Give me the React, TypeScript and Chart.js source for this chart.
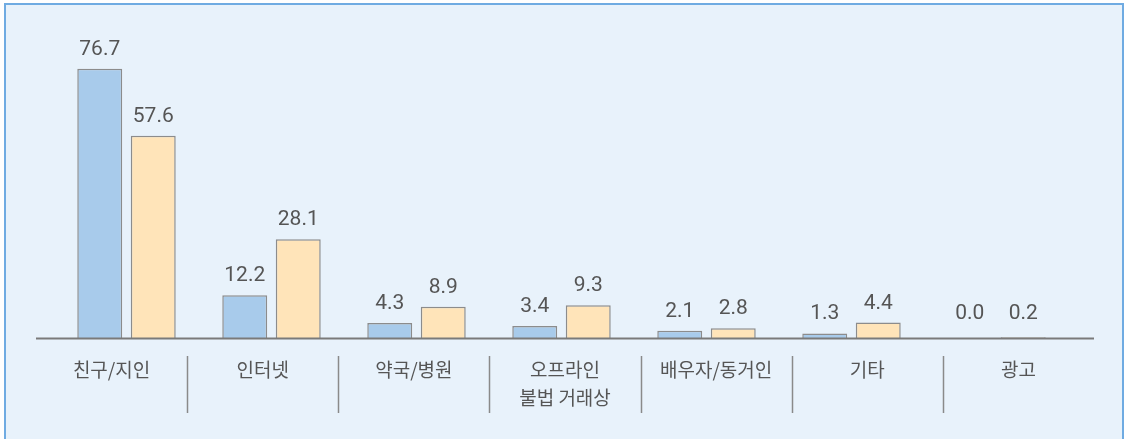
import React, { useEffect, useRef } from "react";
import { Chart, registerables } from "chart.js";

Chart.register(...registerables);

const categories: (string | string[])[] = [
  "친구/지인",
  "인터넷",
  "약국/병원",
  ["오프라인", "불법 거래상"],
  "배우자/동거인",
  "기타",
  "광고",
];
const seriesA = [76.7, 12.2, 4.3, 3.4, 2.1, 1.3, 0.0];
const seriesB = [57.6, 28.1, 8.9, 9.3, 2.8, 4.4, 0.2];
const seriesNames = ["A", "B"];

const TEXT = "#555555";
const FONT = "'Noto Sans CJK KR', 'Noto Sans', sans-serif";
// label band (axis line / separators / category names) extends beyond the bar area
const BAND_LEFT_EXTRA = 18;
const BAND_RIGHT_EXTRA = 25;

const overlay = {
  id: "overlay",
  afterDatasetsDraw(chart: any) {
    const ctx = chart.ctx;
    const area = chart.chartArea;
    const bandL = area.left - BAND_LEFT_EXTRA;
    const bandR = area.right + BAND_RIGHT_EXTRA;
    ctx.save();
    // value labels
    ctx.font = `21px Roboto, ${FONT}`;
    ctx.fillStyle = TEXT;
    ctx.textAlign = "center";
    ctx.textBaseline = "alphabetic";
    chart.data.datasets.forEach((ds: any, di: number) => {
      const meta = chart.getDatasetMeta(di);
      meta.data.forEach((bar: any, i: number) => {
        const v = ds.data[i] as number;
        const top = Math.min(bar.y, area.bottom - 5);
        ctx.fillText(v.toFixed(1), bar.x, top - 14);
      });
    });
    // axis line
    ctx.strokeStyle = "#7a7a7a";
    ctx.lineWidth = 2;
    ctx.beginPath();
    ctx.moveTo(bandL, area.bottom + 0.5);
    ctx.lineTo(bandR, area.bottom + 0.5);
    ctx.stroke();
    // separators
    const n = chart.data.labels.length;
    const step = (bandR - bandL) / n;
    ctx.strokeStyle = "#8a8a8a";
    ctx.lineWidth = 1.5;
    for (let i = 1; i < n; i++) {
      const sx = Math.round(bandL + step * i) + 0.5;
      ctx.beginPath();
      ctx.moveTo(sx, area.bottom + 18);
      ctx.lineTo(sx, area.bottom + 75);
      ctx.stroke();
    }
    // category labels
    ctx.font = `19px ${FONT}`;
    ctx.textBaseline = "middle";
    chart.data.labels.forEach((lab: any, i: number) => {
      const cx = bandL + step * (i + 0.5);
      const lines = Array.isArray(lab) ? lab : [lab];
      lines.forEach((ln: string, li: number) => {
        ctx.fillText(ln, cx, area.bottom + 32 + li * 28);
      });
    });
    ctx.restore();
  },
};

export default function App() {
  const ref = useRef<HTMLCanvasElement>(null);
  useEffect(() => {
    if (!ref.current) return;
    const chart = new Chart(ref.current, {
      type: "bar",
      data: {
        labels: categories as any,
        datasets: [
          {
            label: seriesNames[0],
            data: seriesA,
            backgroundColor: "#a8cbeb",
            borderColor: "#8c8c8c",
            borderWidth: 1.5,
            barPercentage: 0.84,
            categoryPercentage: 0.738,
          },
          {
            label: seriesNames[1],
            data: seriesB,
            backgroundColor: "#ffe4b9",
            borderColor: "#8c8c8c",
            borderWidth: 1.5,
            barPercentage: 0.84,
            categoryPercentage: 0.738,
          },
        ],
      },
      options: {
        animation: false,
        responsive: false,
        maintainAspectRatio: false,
        layout: { padding: { left: 54, right: 55, top: 22, bottom: 101 } },
        plugins: { legend: { display: false }, tooltip: { enabled: false } },
        scales: {
          x: { display: false },
          y: { display: false, min: 0, max: 90 },
        },
      },
      plugins: [overlay],
    });
    return () => chart.destroy();
  }, []);
  return (
    <div style={{ position: "fixed", left: 0, top: 0, width: 1124, height: 439, overflow: "hidden" }}>
      <div
        style={{
          position: "absolute",
          left: 4,
          top: 3,
          width: 1120,
          height: 445,
          boxSizing: "border-box",
          border: "2px solid #6fabe2",
          background: "#e8f2fb",
        }}
      />
      <canvas ref={ref} width={1124} height={439} style={{ position: "absolute", left: 0, top: 0 }} />
    </div>
  );
}
